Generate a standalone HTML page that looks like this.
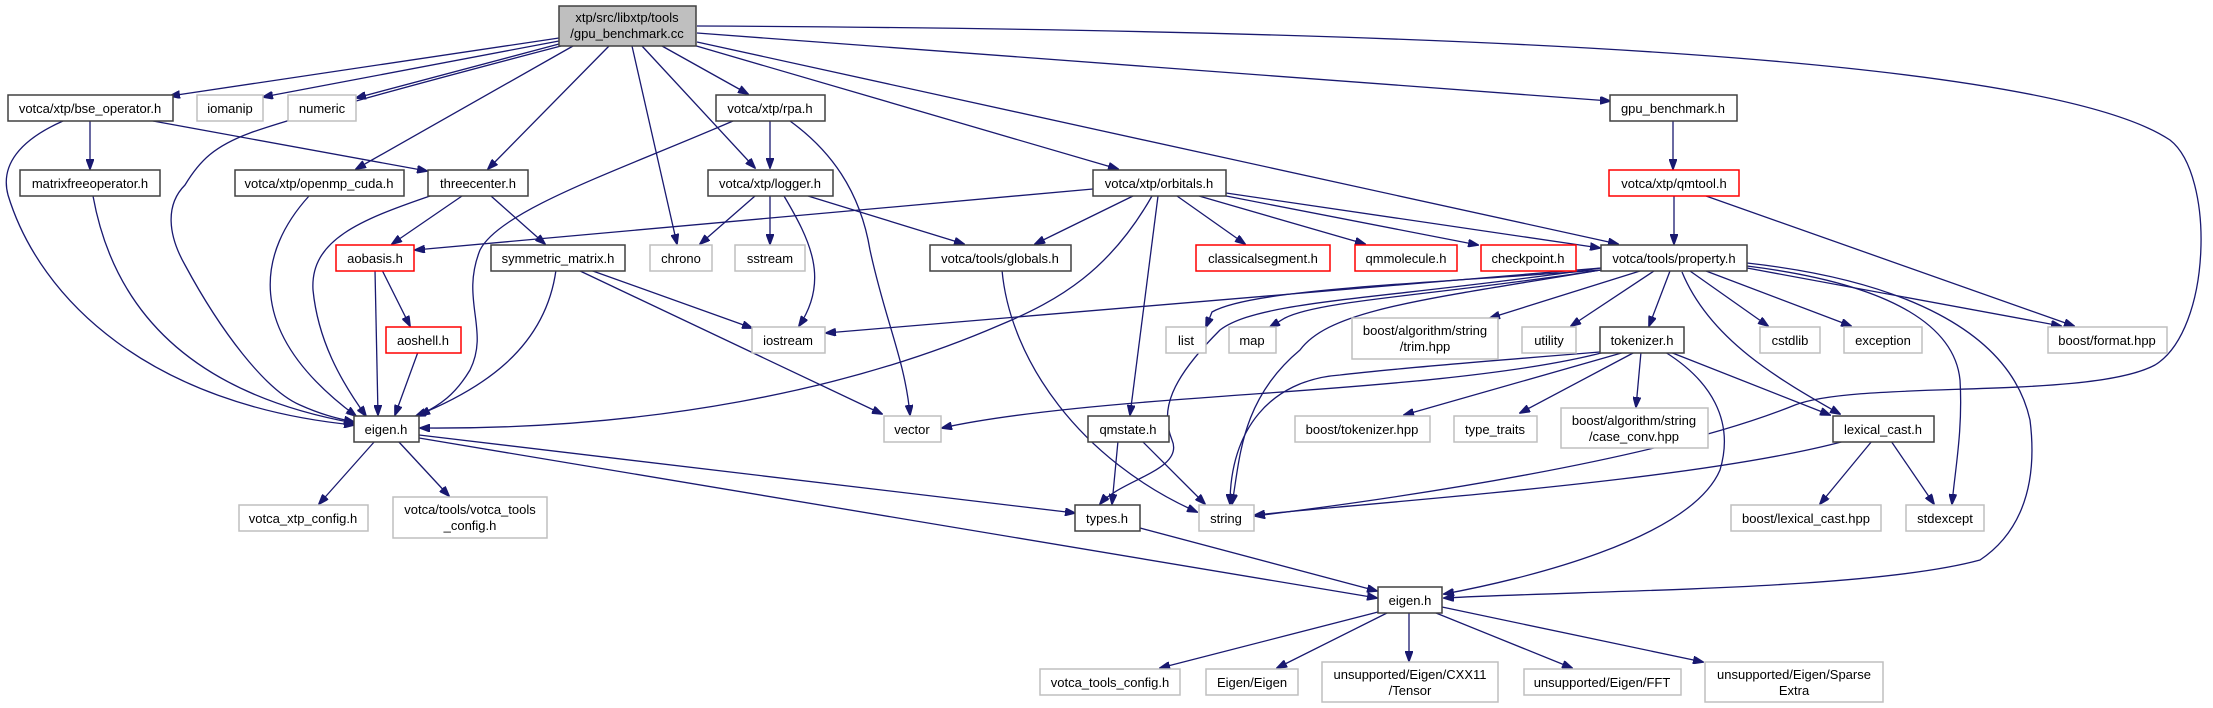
<!DOCTYPE html>
<html><head><meta charset="utf-8"><style>
html,body{margin:0;padding:0;background:#fff;}
svg{display:block;}
text{font-family:"Liberation Sans",Arial,sans-serif;font-size:13px;fill:#000;text-anchor:middle;}
.e{fill:none;stroke:#191970;stroke-width:1.3;marker-end:url(#a);}
.b{fill:#fff;stroke:#404040;stroke-width:1.5;}
.g{fill:#fff;stroke:#bfbfbf;stroke-width:1.5;}
.r{fill:#fff;stroke:#ff0000;stroke-width:1.5;}
</style></head><body>
<svg width="2213" height="708" viewBox="0 0 2213 708" xmlns="http://www.w3.org/2000/svg">
<defs><marker id="a" markerWidth="11" markerHeight="8" refX="10" refY="4" orient="auto" markerUnits="userSpaceOnUse"><path d="M0,0 L11,4 L0,8 z" fill="#191970" stroke="#191970"/></marker></defs>

<!-- edges from root -->
<path class="e" d="M559,38 L170,96"/>
<path class="e" d="M559,41 L263,97"/>
<path class="e" d="M559,44 L356,98"/>
<path class="e" d="M561,46 C450,75 300,115 250,133 C215,146 200,160 185,185 C165,205 168,235 185,265 C220,330 265,390 300,405 C320,414 335,418 354,422"/>
<path class="e" d="M573,46 L356,169"/>
<path class="e" d="M609,46 L488,169"/>
<path class="e" d="M632,46 L677,244"/>
<path class="e" d="M642,46 L755,168"/>
<path class="e" d="M662,46 L748,94"/>
<path class="e" d="M693,45 L1118,169"/>
<path class="e" d="M697,42 L1618,244"/>
<path class="e" d="M697,33 L1610,101"/>
<path class="e" d="M697,26 C1500,30 2050,60 2170,140 C2215,175 2212,330 2155,365 C2090,400 1860,380 1795,405 C1660,460 1400,498 1255,516"/>

<!-- bse -->
<path class="e" d="M90,121 L90,169"/>
<path class="e" d="M153,121 L427,171"/>
<path class="e" d="M63,121 C20,140 0,165 8,195 C40,300 150,405 354,425"/>
<path class="e" d="M93,196 C110,290 170,390 354,423"/>
<path class="e" d="M309,196 C260,250 240,330 356,416"/>
<path class="e" d="M430,196 C360,220 310,240 313,290 C318,340 340,380 366,416"/>
<path class="e" d="M462,196 L392,244"/>
<path class="e" d="M491,196 L545,244"/>
<!-- rpa -->
<path class="e" d="M733,121 C620,170 500,210 480,250 C460,300 490,330 470,370 C455,395 440,405 420,415"/>
<path class="e" d="M770,121 L770,168"/>
<path class="e" d="M790,121 C830,150 860,190 870,250 C885,320 905,360 910,415"/>
<!-- logger -->
<path class="e" d="M755,196 L700,244"/>
<path class="e" d="M770,196 L770,244"/>
<path class="e" d="M784,196 C810,240 830,280 799,326"/>
<path class="e" d="M808,196 L964,244"/>
<!-- orbitals -->
<path class="e" d="M1093,189 L415,250"/>
<path class="e" d="M1133,196 L1035,244"/>
<path class="e" d="M1152,196 C1110,270 1060,300 1000,325 C850,390 650,430 420,428"/>
<path class="e" d="M1158,196 L1130,415"/>
<path class="e" d="M1177,196 L1245,244"/>
<path class="e" d="M1199,196 L1365,244"/>
<path class="e" d="M1221,195 L1478,245"/>
<path class="e" d="M1226,193 L1600,248"/>
<!-- globals -->
<path class="e" d="M1002,270 C1010,360 1080,460 1197,512"/>
<!-- aobasis, aoshell, symmetric -->
<path class="e" d="M375,270 L378,415"/>
<path class="e" d="M382,270 L410,326"/>
<path class="e" d="M418,352 L395,415"/>
<path class="e" d="M556,270 C545,350 480,390 416,416"/>
<path class="e" d="M578,270 L882,414"/>
<path class="e" d="M590,270 L752,328"/>
<!-- gpu / qmtool -->
<path class="e" d="M1673,121 L1673,169"/>
<path class="e" d="M1674,196 L1674,244"/>
<path class="e" d="M1706,196 L2074,326"/>
<!-- property -->
<path class="e" d="M1601,268 L826,333"/>
<path class="e" d="M1601,270 C1400,285 1250,290 1212,312 L1206,327"/>
<path class="e" d="M1601,270 C1440,295 1320,300 1285,318 L1270,327"/>
<path class="e" d="M1640,271 L1490,318"/>
<path class="e" d="M1654,271 L1571,326"/>
<path class="e" d="M1670,271 L1649,326"/>
<path class="e" d="M1690,271 L1768,326"/>
<path class="e" d="M1706,271 L1851,326"/>
<path class="e" d="M1747,268 L2061,326"/>
<path class="e" d="M1682,272 C1710,340 1780,380 1840,414"/>
<path class="e" d="M1747,266 C1900,285 1955,330 1960,380 C1963,430 1955,470 1952,504"/>
<path class="e" d="M1747,263 C1900,280 2010,330 2030,420 C2040,500 2010,540 1980,560 C1870,590 1600,590 1444,598"/>
<path class="e" d="M1601,270 C1420,300 1330,310 1300,350 C1240,400 1240,460 1232,504"/>
<path class="e" d="M1601,268 C1380,300 1260,300 1220,330 C1170,380 1160,410 1172,440 C1185,470 1120,480 1100,504"/>
<!-- tokenizer -->
<path class="e" d="M1605,352 C1500,380 1300,390 1200,398 C1100,405 1000,415 942,428"/>
<path class="e" d="M1600,352 C1500,360 1380,370 1340,375 C1270,380 1230,430 1230,504"/>
<path class="e" d="M1625,352 L1404,415"/>
<path class="e" d="M1635,352 L1520,413"/>
<path class="e" d="M1641,352 L1636,407"/>
<path class="e" d="M1670,352 L1830,415"/>
<path class="e" d="M1665,352 C1710,380 1735,420 1720,470 C1690,540 1520,580 1444,594"/>
<!-- qmstate, lexical -->
<path class="e" d="M1118,441 L1112,504"/>
<path class="e" d="M1142,441 L1205,504"/>
<path class="e" d="M1845,441 C1700,480 1400,500 1255,515"/>
<path class="e" d="M1872,441 L1820,504"/>
<path class="e" d="M1891,441 L1934,504"/>
<!-- eigen1 -->
<path class="e" d="M375,441 L319,504"/>
<path class="e" d="M398,441 L449,496"/>
<path class="e" d="M419,435 L1075,513"/>
<path class="e" d="M419,438 L1377,598"/>
<path class="e" d="M1140,528 L1377,591"/>
<!-- eigen2 -->
<path class="e" d="M1378,612 L1160,668"/>
<path class="e" d="M1387,613 L1277,668"/>
<path class="e" d="M1409,613 L1409,661"/>
<path class="e" d="M1436,613 L1572,668"/>
<path class="e" d="M1442,607 L1703,662"/>

<!-- nodes -->
<rect x="559" y="6" width="137" height="40" fill="#bfbfbf" stroke="#404040" stroke-width="1.5"/>
<text x="627" y="22">xtp/src/libxtp/tools</text><text x="627" y="38">/gpu_benchmark.cc</text>

<rect class="b" x="8" y="95" width="165" height="26"/><text x="90" y="113">votca/xtp/bse_operator.h</text>
<rect class="g" x="197" y="95" width="66" height="26"/><text x="230" y="113">iomanip</text>
<rect class="g" x="288" y="95" width="68" height="26"/><text x="322" y="113">numeric</text>
<rect class="b" x="716" y="95" width="109" height="26"/><text x="770" y="113">votca/xtp/rpa.h</text>
<rect class="b" x="1610" y="95" width="127" height="26"/><text x="1673" y="113">gpu_benchmark.h</text>

<rect class="b" x="20" y="170" width="140" height="26"/><text x="90" y="188">matrixfreeoperator.h</text>
<rect class="b" x="235" y="170" width="169" height="26"/><text x="319" y="188">votca/xtp/openmp_cuda.h</text>
<rect class="b" x="428" y="170" width="100" height="26"/><text x="478" y="188">threecenter.h</text>
<rect class="b" x="708" y="170" width="125" height="26"/><text x="770" y="188">votca/xtp/logger.h</text>
<rect class="b" x="1093" y="170" width="133" height="26"/><text x="1159" y="188">votca/xtp/orbitals.h</text>
<rect class="r" x="1609" y="170" width="130" height="26"/><text x="1674" y="188">votca/xtp/qmtool.h</text>

<rect class="r" x="336" y="245" width="78" height="26"/><text x="375" y="263">aobasis.h</text>
<rect class="b" x="491" y="245" width="134" height="26"/><text x="558" y="263">symmetric_matrix.h</text>
<rect class="g" x="650" y="245" width="62" height="26"/><text x="681" y="263">chrono</text>
<rect class="g" x="735" y="245" width="70" height="26"/><text x="770" y="263">sstream</text>
<rect class="b" x="930" y="245" width="141" height="26"/><text x="1000" y="263">votca/tools/globals.h</text>
<rect class="r" x="1196" y="245" width="134" height="26"/><text x="1263" y="263">classicalsegment.h</text>
<rect class="r" x="1355" y="245" width="102" height="26"/><text x="1406" y="263">qmmolecule.h</text>
<rect class="r" x="1481" y="245" width="95" height="26"/><text x="1528" y="263">checkpoint.h</text>
<rect class="b" x="1601" y="245" width="146" height="26"/><text x="1674" y="263">votca/tools/property.h</text>

<rect class="r" x="386" y="327" width="75" height="26"/><text x="423" y="345">aoshell.h</text>
<rect class="g" x="752" y="327" width="73" height="26"/><text x="788" y="345">iostream</text>
<rect class="g" x="1166" y="327" width="40" height="26"/><text x="1186" y="345">list</text>
<rect class="g" x="1229" y="327" width="47" height="26"/><text x="1252" y="345">map</text>
<rect class="g" x="1352" y="318" width="146" height="41"/><text x="1425" y="335">boost/algorithm/string</text><text x="1425" y="351">/trim.hpp</text>
<rect class="g" x="1522" y="327" width="54" height="26"/><text x="1549" y="345">utility</text>
<rect class="b" x="1600" y="327" width="84" height="26"/><text x="1642" y="345">tokenizer.h</text>
<rect class="g" x="1760" y="327" width="60" height="26"/><text x="1790" y="345">cstdlib</text>
<rect class="g" x="1844" y="327" width="78" height="26"/><text x="1883" y="345">exception</text>
<rect class="g" x="2048" y="327" width="119" height="26"/><text x="2107" y="345">boost/format.hpp</text>

<rect class="b" x="354" y="416" width="65" height="26"/><text x="386" y="434">eigen.h</text>
<rect class="g" x="884" y="416" width="57" height="26"/><text x="912" y="434">vector</text>
<rect class="b" x="1088" y="416" width="81" height="26"/><text x="1128" y="434">qmstate.h</text>
<rect class="g" x="1295" y="416" width="135" height="26"/><text x="1362" y="434">boost/tokenizer.hpp</text>
<rect class="g" x="1454" y="416" width="83" height="26"/><text x="1495" y="434">type_traits</text>
<rect class="g" x="1561" y="408" width="147" height="40"/><text x="1634" y="425">boost/algorithm/string</text><text x="1634" y="441">/case_conv.hpp</text>
<rect class="b" x="1833" y="416" width="101" height="26"/><text x="1883" y="434">lexical_cast.h</text>

<rect class="g" x="239" y="505" width="129" height="26"/><text x="303" y="523">votca_xtp_config.h</text>
<rect class="g" x="393" y="497" width="154" height="41"/><text x="470" y="514">votca/tools/votca_tools</text><text x="470" y="530">_config.h</text>
<rect class="b" x="1075" y="505" width="65" height="26"/><text x="1107" y="523">types.h</text>
<rect class="g" x="1199" y="505" width="55" height="26"/><text x="1226" y="523">string</text>
<rect class="g" x="1731" y="505" width="150" height="26"/><text x="1806" y="523">boost/lexical_cast.hpp</text>
<rect class="g" x="1906" y="505" width="78" height="26"/><text x="1945" y="523">stdexcept</text>

<rect class="b" x="1378" y="587" width="64" height="26"/><text x="1410" y="605">eigen.h</text>

<rect class="g" x="1040" y="669" width="140" height="26"/><text x="1110" y="687">votca_tools_config.h</text>
<rect class="g" x="1206" y="669" width="92" height="26"/><text x="1252" y="687">Eigen/Eigen</text>
<rect class="g" x="1322" y="662" width="176" height="40"/><text x="1410" y="679">unsupported/Eigen/CXX11</text><text x="1410" y="695">/Tensor</text>
<rect class="g" x="1524" y="669" width="157" height="26"/><text x="1602" y="687">unsupported/Eigen/FFT</text>
<rect class="g" x="1705" y="662" width="178" height="40"/><text x="1794" y="679">unsupported/Eigen/Sparse</text><text x="1794" y="695">Extra</text>
</svg>
</body></html>
